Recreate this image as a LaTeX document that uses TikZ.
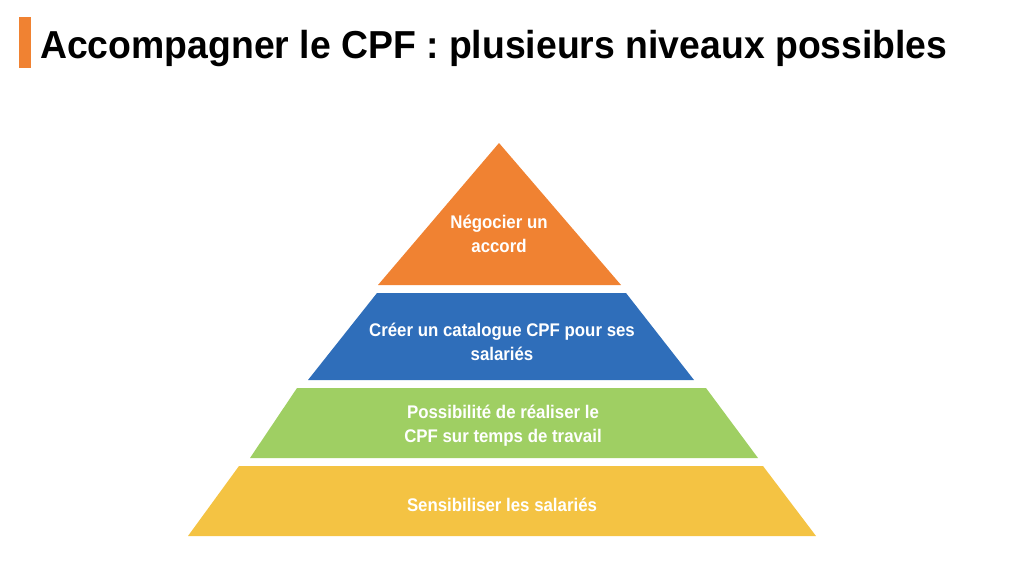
\documentclass[tikz,border=0pt]{standalone}
\usepackage{fontspec}
\setmainfont{Liberation Sans}[FakeStretch=0.92]
\newfontfamily\titlefont{Liberation Sans}[FakeStretch=0.958]
\definecolor{cporange}{HTML}{F08232}
\definecolor{cpblue}{HTML}{2F6EBA}
\definecolor{cpgreen}{HTML}{9FCF63}
\definecolor{cpyellow}{HTML}{F4C343}
\tikzset{
  leveltext/.style={text=white, font=\bfseries\fontsize{18.3}{24}\selectfont, align=center, inner sep=0pt},
}
\begin{document}
\begin{tikzpicture}[x=1pt,y=-1pt]
\useasboundingbox (0,0) rectangle (1024,576);
% title
\fill[cporange] (19,17) rectangle (31,68);
\node[anchor=base west, inner sep=0pt, font=\titlefont\bfseries\fontsize{39}{47}\selectfont] (title) at (40,58) {Accompagner le CPF : plusieurs niveaux possibles};
% pyramid levels
\fill[cporange] (499,143) -- (621,285) -- (378,285) -- cycle;
\fill[cpblue] (377,293) -- (626,293) -- (694,380) -- (308,380) -- cycle;
\fill[cpgreen] (297,388) -- (706,388) -- (758,458) -- (250,458) -- cycle;
\fill[cpyellow] (239,466) -- (763,466) -- (816,536) -- (188,536) -- cycle;
% labels
\node[leveltext] (l1) at (499,234) {Négocier un\\accord};
\node[leveltext] (l2) at (502,342) {Créer un catalogue CPF pour ses\\salariés};
\node[leveltext] (l3) at (503,425.5) {Possibilité de réaliser le\\CPF sur temps de travail};
\node[leveltext] (l4) at (502,505) {Sensibiliser les salariés};
\end{tikzpicture}
\end{document}
